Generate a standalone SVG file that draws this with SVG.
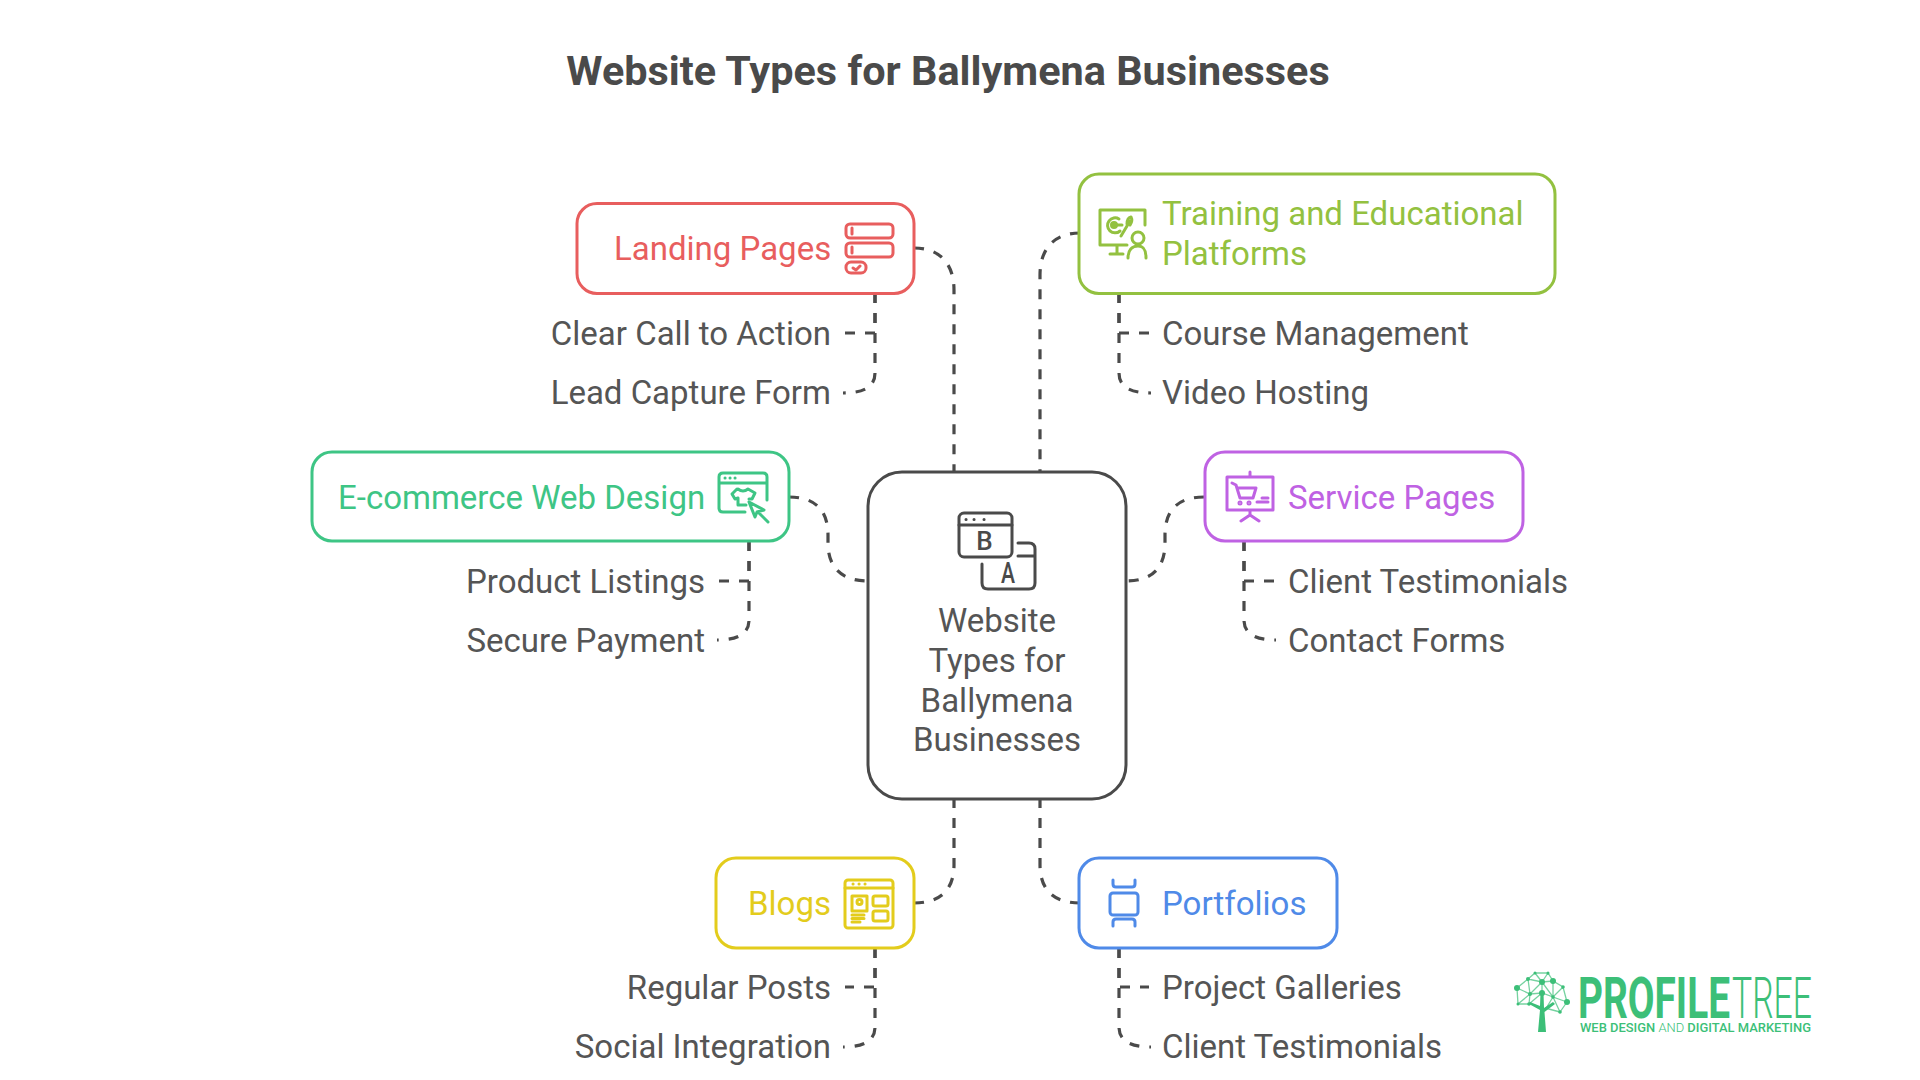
<svg xmlns="http://www.w3.org/2000/svg" width="1920" height="1080" viewBox="0 0 1920 1080">
<style>
text{font-family:Roboto,"Liberation Sans",sans-serif;font-size:33px;fill:#555}
.title{font-size:41.4px;font-weight:700;fill:#4a4a4a;text-anchor:middle}
.box{fill:#fff;stroke-width:3}
.end{text-anchor:end}
.mid{text-anchor:middle}
.con{fill:none;stroke:#4a4a4a;stroke-width:3.2;stroke-dasharray:10 10}
.ic{fill:none;stroke-width:3;stroke-linecap:round;stroke-linejoin:round}
.red{stroke:#e85e5e}.redt{fill:#e85e5e}
.lime{stroke:#93c140}.limet{fill:#93c140}
.em{stroke:#3ec585}.emt{fill:#3ec585}
.pur{stroke:#bf62e3}.purt{fill:#bf62e3}
.yel{stroke:#e3cc1c}.yelt{fill:#e3cc1c}
.blu{stroke:#4f8ae8}.blut{fill:#4f8ae8}
.dk{stroke:#4a4a4a}
.lg{fill:#3cbf78}
</style>
<text class="title" x="948" y="85">Website Types for Ballymena Businesses</text>
<g id="connectors">
<path class="con" d="M914 248C940 248 954 264 954 290V472"/>
<path class="con" d="M1080 233C1054 233 1040 249 1040 275V472"/>
<path class="con" d="M789 497C815 497 828 510 828 535V543C828 568 842 581 868 581"/>
<path class="con" d="M1204 497C1178 497 1165 510 1165 535V543C1165 568 1152 581 1126 581"/>
<path class="con" d="M954 798V865C954 890 940 903 914 903"/>
<path class="con" d="M1040 798V865C1040 890 1054 903 1080 903"/>
<path class="con" d="M875 293V333H845"/>
<path class="con" d="M875 293V373C875 386 865 393 843 393"/>
<path class="con" d="M1119 293V333H1149"/>
<path class="con" d="M1119 293V373C1119 386 1129 393 1151 393"/>
<path class="con" d="M749 541V581H719"/>
<path class="con" d="M749 541V620C749 633 739 640 717 640"/>
<path class="con" d="M1244 541V581H1274"/>
<path class="con" d="M1244 541V620C1244 633 1254 640 1276 640"/>
<path class="con" d="M875 948V987H845"/>
<path class="con" d="M875 948V1027C875 1040 865 1047 843 1047"/>
<path class="con" d="M1119 948V987H1149"/>
<path class="con" d="M1119 948V1027C1119 1040 1129 1047 1151 1047"/>
</g>
<g id="center">
<rect class="box dk" x="868" y="472" width="258" height="327" rx="34"/>
<rect class="ic dk" x="959" y="513" width="53" height="44" rx="5"/>
<path class="ic dk" d="M959 525H1012M1018 543H1029Q1035 543 1035 549V583Q1035 589 1029 589H988Q982 589 982 583V564M1018 556H1035"/>
<path class="ic dk" d="M966 519.5h.1M974 519.5h.1M984 519.5h.1"/>
<text class="mid" style="font-size:26px;font-weight:500;fill:#4a4a4a" x="984.5" y="550">B</text>
<text class="mid" style="font-size:30px;font-weight:500;fill:#4a4a4a" x="1008" y="583" textLength="14" lengthAdjust="spacingAndGlyphs">A</text>
<text class="mid" x="997" y="632">Website</text>
<text class="mid" x="997" y="672">Types for</text>
<text class="mid" x="997" y="712">Ballymena</text>
<text class="mid" x="997" y="751">Businesses</text>
</g>
<g id="landing">
<rect class="box red" x="577" y="203.500" width="337" height="90" rx="20"/>
<text class="redt" x="614" y="260">Landing Pages</text>
<rect class="ic red" x="846" y="224" width="47" height="14" rx="4"/>
<rect class="ic red" x="846" y="243" width="47" height="14" rx="4"/>
<rect class="ic red" x="846" y="262" width="20" height="11" rx="5"/>
<path class="ic red" d="M852 228v6M852 247v6M853 268l3 2 4-4"/>
<text class="end" x="831" y="345">Clear Call to Action</text>
<text class="end" x="831" y="404">Lead Capture Form</text>
</g>
<g id="training">
<rect class="box lime" x="1079" y="174" width="476" height="119.500" rx="20"/>
<text class="limet" x="1162" y="225">Training and Educational</text>
<text class="limet" x="1162" y="265">Platforms</text>
<path class="ic lime" d="M1127 245H1100V210H1145V225M1117 245V253M1110 254H1123"/>
<path class="ic lime" d="M1119 219A7.500 7.500 0 1 0 1120 231M1121 236L1130 221"/>
<circle class="ic lime" cx="1114" cy="225" r="2.500"/>
<path class="ic lime" d="M1114 225H1122M1127 224Q1127 218 1131 217Q1133 221 1130 225"/>
<circle class="ic lime" cx="1138" cy="238" r="6"/>
<path class="ic lime" d="M1128 258C1128 250 1132 246 1138 246S1146 250 1146 258"/>
<text x="1162" y="345">Course Management</text>
<text x="1162" y="404">Video Hosting</text>
</g>
<g id="ecommerce">
<rect class="box em" x="312" y="452" width="477" height="89" rx="20"/>
<text class="emt" x="338" y="508.500">E-commerce Web Design</text>
<path class="ic em" d="M767 500V477Q767 473 763 473H723Q719 473 719 477V508Q719 512 723 512H745M719 483H767"/>
<path class="ic em" d="M725 478h.1M730 478h.1M735 478h.1"/>
<path class="ic em" d="M738 489Q743 493 748 489L755 493 752 499 749 499M737 489L732 494 735 499 738 498V505H746"/>
<path class="ic em" d="M749 502L764 510 757 512 755 517ZM758 512L768 522"/>
<text class="end" x="705" y="593">Product Listings</text>
<text class="end" x="705" y="652">Secure Payment</text>
</g>
<g id="service">
<rect class="box pur" x="1205" y="452" width="318" height="89" rx="20"/>
<text class="purt" x="1288" y="508.500">Service Pages</text>
<path class="ic pur" d="M1227 499V477H1273V510H1227V499ZM1250 472V477M1250 510V515L1241 521M1250 515L1259 521"/>
<path class="ic pur" d="M1232 483L1236 485 1240 498H1253L1256 488H1238"/>
<circle class="ic pur" cx="1240" cy="503" r="1"/>
<circle class="ic pur" cx="1249" cy="503" r="1"/>
<path class="ic pur" d="M1257 502H1268M1262 498H1268"/>
<text x="1288" y="593">Client Testimonials</text>
<text x="1288" y="652">Contact Forms</text>
</g>
<g id="blogs">
<rect class="box yel" x="716" y="858" width="198" height="90" rx="20"/>
<text class="yelt" x="748" y="914.500">Blogs</text>
<rect class="ic yel" x="845" y="880" width="48" height="48" rx="3"/>
<path class="ic yel" d="M845 888H893"/>
<path class="ic yel" d="M853 884h.1M859 884h.1M865 884h.1"/>
<rect class="ic yel" x="852" y="896" width="15" height="15"/>
<circle class="ic yel" cx="859.500" cy="902" r="2.500"/>
<path class="ic yel" d="M852 915H864M852 918.500H864M852 922H860"/>
<rect class="ic yel" x="873" y="896" width="15" height="10" rx="2"/>
<rect class="ic yel" x="873" y="911" width="15" height="10" rx="2"/>
<text class="end" x="831" y="999">Regular Posts</text>
<text class="end" x="831" y="1058">Social Integration</text>
</g>
<g id="portfolios">
<rect class="box blu" x="1079" y="858" width="258" height="90" rx="20"/>
<text class="blut" x="1162" y="914.500">Portfolios</text>
<rect class="ic blu" x="1110" y="893" width="28" height="22" rx="3"/>
<path class="ic blu" d="M1113 880V884Q1113 887 1116 887H1132Q1135 887 1135 884V880M1113 926V922Q1113 919 1116 919H1132Q1135 919 1135 922V926"/>
<text x="1162" y="999">Project Galleries</text>
<text x="1162" y="1058">Client Testimonials</text>
</g>
<g id="logo">
<path class="lg" d="M1538 1032L1540 1010 1529 1004 1530 1002 1540 1006 1540.500 993H1543.500L1544 1008 1553 1002 1555 1004 1544.500 1012 1546 1032Z"/>
<path fill="none" stroke="#3cbf78" stroke-opacity=".7" stroke-width="1.300" d="M1517 988L1528 979 1542 982 1553 981 1563 987 1567 1002 1560 1012 1553 997 1542 993 1530 994 1517 988 1518 1004 1529 1004 1530 994 1528 979M1528 979L1535 973 1548 973 1553 981M1535 973L1542 982M1548 973L1542 982M1542 982V993M1530 994L1542 982 1553 997 1567 1002M1553 981L1553 997 1563 987M1542 982L1553 981M1529 1004L1542 993M1553 997L1545 1010M1560 1012L1545 1008M1518 1004L1530 994"/>
<g class="lg">
<circle cx="1517" cy="988" r="3"/><circle cx="1528" cy="979" r="2"/><circle cx="1542" cy="982" r="3"/><circle cx="1553" cy="981" r="3"/><circle cx="1563" cy="987" r="1.800"/><circle cx="1567" cy="1002" r="3"/><circle cx="1560" cy="1012" r="1.800"/><circle cx="1542" cy="993" r="3"/><circle cx="1530" cy="994" r="2"/><circle cx="1529" cy="1004" r="1.800"/><circle cx="1518" cy="1004" r="1.500"/><circle cx="1535" cy="973" r="1.500"/><circle cx="1548" cy="973" r="1.500"/><circle cx="1553" cy="997" r="1.800"/>
</g>
<text x="1578" y="1018" textLength="152" lengthAdjust="spacingAndGlyphs" style="font-size:57px;font-weight:700;fill:#3cbf78">PROFILE</text>
<text x="1732" y="1018" textLength="80" lengthAdjust="spacingAndGlyphs" style="font-size:57px;font-weight:300;fill:#3cbf78">TREE</text>
<text x="1580" y="1032" textLength="231" lengthAdjust="spacingAndGlyphs" style="font-size:12px;font-weight:500;fill:#3cbf78">WEB DESIGN <tspan font-weight="300">AND</tspan> DIGITAL MARKETING</text>
</g>
</svg>
